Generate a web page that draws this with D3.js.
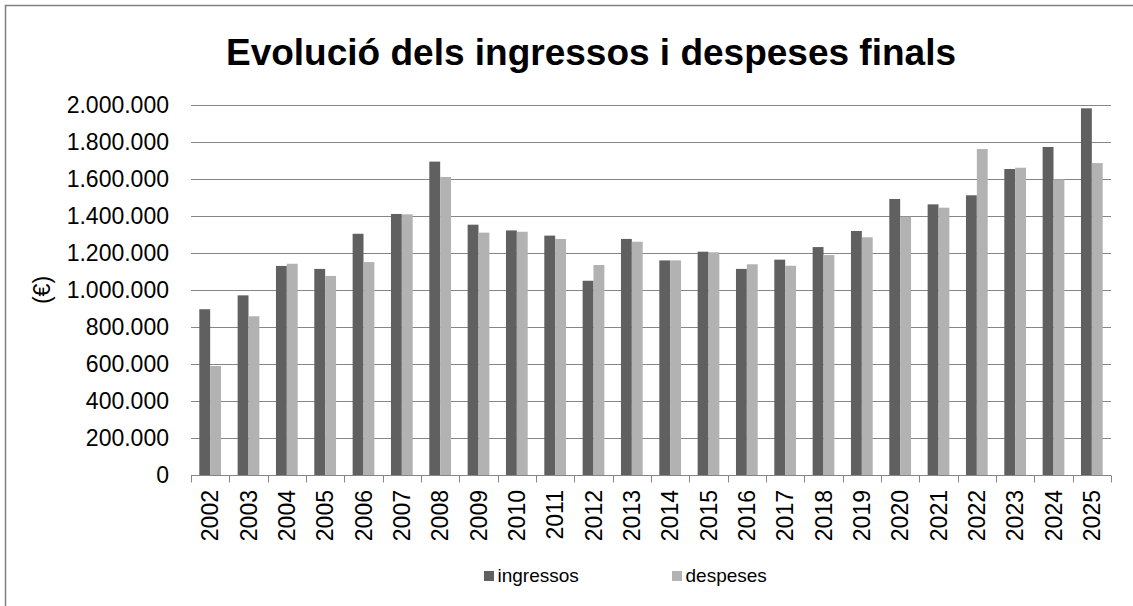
<!DOCTYPE html>
<html>
<head>
<meta charset="utf-8">
<script src="https://cdn.jsdelivr.net/npm/d3@7"></script>
<style>
  body { margin: 0; background: #fff; }
  svg { font-family: "Liberation Sans", Arial, sans-serif; }
</style>
</head>
<body>
<div id="chart"></div>
<script>
// data
const years = ["2002","2003","2004","2005","2006","2007","2008","2009","2010","2011","2012","2013",
  "2014","2015","2016","2017","2018","2019","2020","2021","2022","2023","2024","2025"];
const ingressos = [896000, 971000, 1130000, 1114000, 1304000, 1411000, 1694000, 1353000, 1322000, 1294000, 1050000, 1276000,
  1160000, 1207000, 1114000, 1164000, 1232000, 1319000, 1492000, 1463000, 1512000, 1654000, 1773000, 1982000];
const despeses = [589000, 858000, 1142000, 1076000, 1151000, 1409000, 1611000, 1310000, 1315000, 1276000, 1135000, 1261000,
  1160000, 1204000, 1139000, 1131000, 1189000, 1285000, 1396000, 1445000, 1762000, 1661000, 1598000, 1686000];
const seriesNames = ["ingressos", "despeses"];
const yTicks = [0, 200000, 400000, 600000, 800000, 1000000, 1200000, 1400000, 1600000, 1800000, 2000000];

const width = 1133, height = 606;
const margin = { top: 105, bottom: 131, left: 191, right: 22 };
const colors = { ingressos: "#606060", despeses: "#b2b2b2" };

const locale = d3.formatLocale({ decimal: ",", thousands: ".", grouping: [3], currency: ["", " €"] });
const fmt = locale.format(",d");

const svg = d3.select("#chart").append("svg")
  .attr("width", width)
  .attr("height", height);

// frame (right / bottom sides fall outside the picture)
svg.append("rect")
  .attr("x", 5.5).attr("y", 5.5)
  .attr("width", 1140).attr("height", 620)
  .attr("fill", "none")
  .attr("stroke", "#7f7f7f")
  .attr("stroke-width", 1.5);

const x0 = d3.scaleBand()
  .domain(years)
  .range([margin.left, width - margin.right])
  .paddingInner(0.433)
  .paddingOuter(0.2165);

const x1 = d3.scaleBand()
  .domain(seriesNames)
  .range([0, x0.bandwidth()]);

const y = d3.scaleLinear()
  .domain([0, 2000000])
  .range([height - margin.bottom, margin.top]);

// gridlines
svg.append("g")
  .selectAll("line")
  .data(yTicks.filter(d => d > 0))
  .join("line")
  .attr("x1", margin.left).attr("x2", width - margin.right)
  .attr("y1", d => Math.round(y(d)) + 0.5).attr("y2", d => Math.round(y(d)) + 0.5)
  .attr("stroke", "#868686")
  .attr("stroke-width", 1);

// y labels
svg.append("g")
  .selectAll("text")
  .data(yTicks)
  .join("text")
  .attr("x", 169)
  .attr("y", d => y(d))
  .attr("dy", "0.35em")
  .attr("text-anchor", "end")
  .attr("font-size", 23)
  .attr("fill", "#000")
  .text(d => fmt(d));

// bars
const rows = years.map((yr, i) => ({ year: yr, ingressos: ingressos[i], despeses: despeses[i] }));

svg.append("g")
  .selectAll("g")
  .data(rows)
  .join("g")
  .attr("transform", d => `translate(${x0(d.year)},0)`)
  .selectAll("rect")
  .data(d => seriesNames.map(k => ({ key: k, value: d[k] })))
  .join("rect")
  .attr("x", d => x1(d.key))
  .attr("width", x1.bandwidth())
  .attr("y", d => y(d.value))
  .attr("height", d => y(0) - y(d.value))
  .attr("fill", d => colors[d.key]);

// x axis line + ticks between categories
const y0 = Math.round(y(0)) + 0.5;
svg.append("line")
  .attr("x1", margin.left).attr("x2", width - margin.right)
  .attr("y1", y0).attr("y2", y0)
  .attr("stroke", "#868686");

svg.append("g")
  .selectAll("line")
  .data(d3.range(years.length + 1))
  .join("line")
  .attr("x1", i => Math.round(x0.range()[0] + i * x0.step()) + 0.5)
  .attr("x2", i => Math.round(x0.range()[0] + i * x0.step()) + 0.5)
  .attr("y1", y0).attr("y2", y0 + 7)
  .attr("stroke", "#868686");

// year labels
svg.append("g")
  .selectAll("text")
  .data(years)
  .join("text")
  .attr("transform", d => `translate(${x0(d) + x0.bandwidth() / 2},490) rotate(-90)`)
  .attr("dy", "0.35em")
  .attr("text-anchor", "end")
  .attr("font-size", 23)
  .attr("fill", "#000")
  .text(d => d);

// y title
svg.append("text")
  .attr("transform", `translate(42,${(margin.top + height - margin.bottom) / 2}) rotate(-90)`)
  .attr("dy", "0.35em")
  .attr("text-anchor", "middle")
  .attr("font-size", 23)
  .attr("fill", "#000")
  .text("(€)");

// title
svg.append("text")
  .attr("x", 591)
  .attr("y", 65)
  .attr("text-anchor", "middle")
  .attr("font-size", 37)
  .attr("font-weight", "bold")
  .attr("fill", "#000")
  .text("Evolució dels ingressos i despeses finals");

// legend
const legendX = [484, 672];
const legend = svg.append("g")
  .selectAll("g")
  .data(seriesNames)
  .join("g")
  .attr("transform", (d, i) => `translate(${legendX[i]},571)`);

legend.append("rect")
  .attr("width", 10).attr("height", 10)
  .attr("fill", d => colors[d]);

legend.append("text")
  .attr("x", 13.5)
  .attr("y", 10.5)
  .attr("font-size", 19)
  .attr("fill", "#000")
  .text(d => d);
</script>
</body>
</html>
